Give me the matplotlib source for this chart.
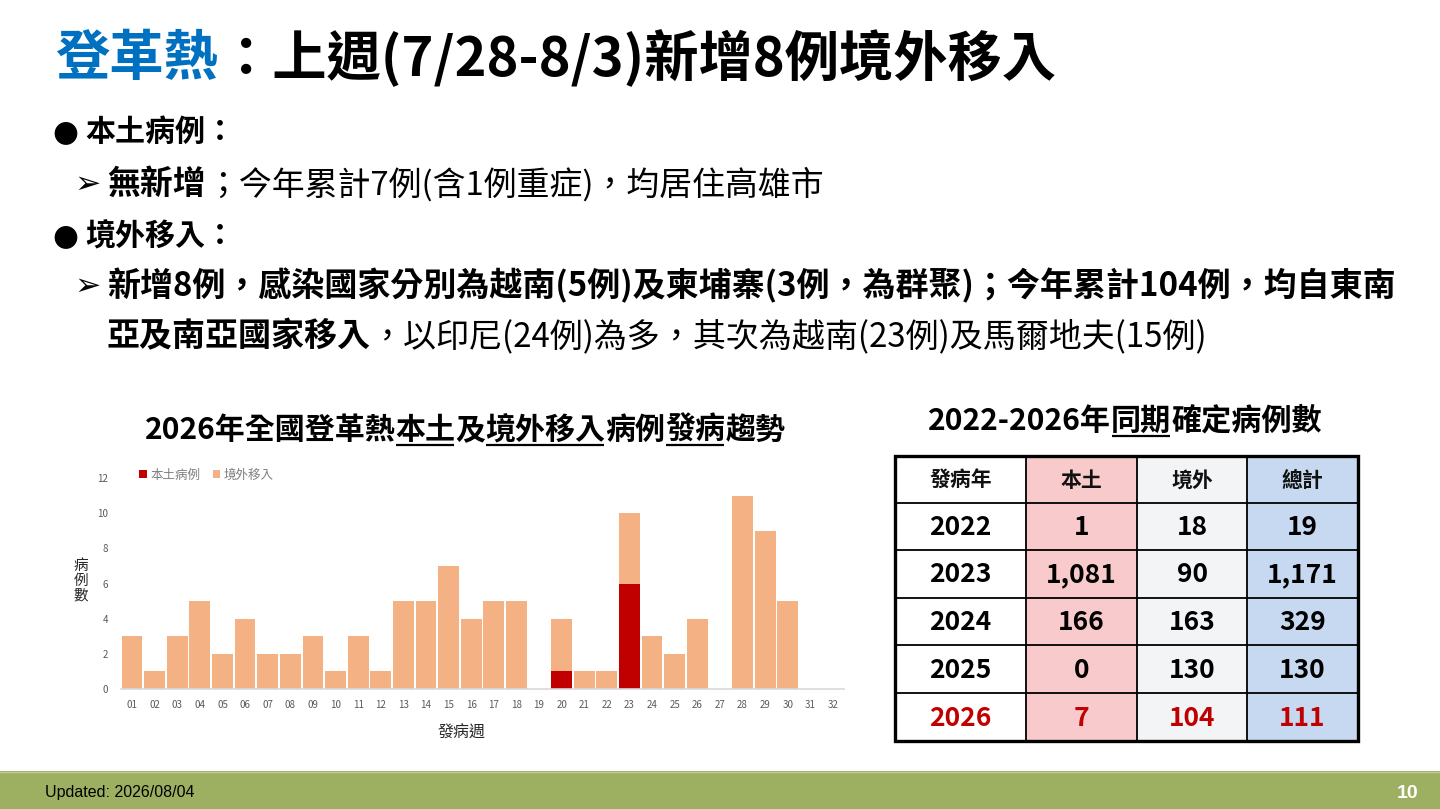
import matplotlib
matplotlib.use("Agg")
import matplotlib.pyplot as plt
from matplotlib.patches import Rectangle

plt.rcParams['font.family'] = ['Noto Sans CJK TC', 'DejaVu Sans']

# ---------------- data ----------------
weeks = ['01', '02', '03', '04', '05', '06', '07', '08', '09', '10', '11', '12', '13', '14', '15', '16',
         '17', '18', '19', '20', '21', '22', '23', '24', '25', '26', '27', '28', '29', '30', '31', '32']
local_cases = [0, 0, 0, 0, 0, 0, 0, 0, 0, 0, 0, 0, 0, 0, 0, 0,
               0, 0, 0, 1, 0, 0, 6, 0, 0, 0, 0, 0, 0, 0, 0, 0]
imported_cases = [3, 1, 3, 5, 2, 4, 2, 2, 3, 1, 3, 1, 5, 5, 7, 4,
                  5, 5, 0, 3, 1, 1, 4, 3, 2, 4, 0, 11, 9, 5, 0, 0]
y_ticks = [0, 2, 4, 6, 8, 10, 12]

table_header = ['發病年', '本土', '境外', '總計']
table_years = ['2022', '2023', '2024', '2025', '2026']
table_local = [1, 1081, 166, 0, 7]
table_imported = [18, 90, 163, 130, 104]
table_total = [19, 1171, 329, 130, 111]

# ---------------- figure ----------------
W, H = 1440, 809
fig = plt.figure(figsize=(W / 100, H / 100), dpi=100)
fig.patch.set_facecolor('white')

ov = fig.add_axes([0, 0, 1, 1])
ov.set_xlim(0, W)
ov.set_ylim(H, 0)
ov.axis('off')
ov.set_zorder(0)

renderer = fig.canvas.get_renderer()

BLUE = '#0070C0'
RED = '#C00000'
ORANGE = '#F4B183'


def seg_width(txt, size, weight):
    t = ov.text(0, 0, txt, fontsize=size, fontweight=weight)
    w = t.get_window_extent(renderer=renderer).width
    t.remove()
    return w


def runs_width(runs, size):
    return sum(seg_width(r[0], size, r[1]) for r in runs)


def fit_size(runs, target):
    return 20 * target / runs_width(runs, 20)


def draw_runs(x, y, runs, size, underline=None, ulw=1.5, ul_off=0.0):
    positions = []
    for txt, weight, color in runs:
        t = ov.text(x, y, txt, fontsize=size, fontweight=weight, color=color,
                    ha='left', va='center')
        w = t.get_window_extent(renderer=renderer).width
        positions.append((x, x + w))
        x += w
    if underline:
        for i in underline:
            x0, x1 = positions[i]
            ov.plot([x0 + 1, x1 - 1], [y + ul_off, y + ul_off], color='black', lw=ulw,
                    solid_capstyle='butt')
    return positions


# ---------------- main title ----------------
title_runs = [('登革熱', 'bold', BLUE), ('：上週(7/28-8/3)新增8例境外移入', 'bold', 'black')]
ts = fit_size(title_runs, 1000)
draw_runs(55, 59, title_runs, ts)

# ---------------- bullet text ----------------
line1 = [('本土病例：', 'bold', 'black')]
line2 = [('無新增', 'bold', 'black'), ('；今年累計7例(含1例重症)，均居住高雄市', 'normal', 'black')]
line3 = [('境外移入：', 'bold', 'black')]
line4 = [('新增8例，感染國家分別為越南(5例)及柬埔寨(3例，為群聚)；今年累計104例，均自東南', 'bold', 'black')]
line5 = [('亞及南亞國家移入', 'bold', 'black'),
         ('，以印尼(24例)為多，其次為越南(23例)及馬爾地夫(15例)', 'normal', 'black')]

bs = fit_size(line4, 1288)
bs1 = fit_size(line1, 150)


def bullet(xc, yc, sym, size):
    ov.text(xc, yc, sym, fontsize=size, ha='center', va='center', color='black',
            family=['DejaVu Sans'], fontweight='bold')


bullet(65, 132, '●', bs * 0.9)
draw_runs(85, 132, line1, bs1)
bullet(88, 184, '➢', bs * 0.95)
draw_runs(107, 184, line2, fit_size(line2, 715))
bullet(65, 236, '●', bs * 0.9)
draw_runs(85, 236, line3, bs1)
bullet(88, 286, '➢', bs * 0.95)
draw_runs(107, 286, line4, bs)
draw_runs(107, 337, line5, fit_size(line5, 1100))

# ---------------- chart title ----------------
ct_runs = [('2026年全國登革熱', 'bold', 'black'), ('本土', 'bold', 'black'), ('及', 'bold', 'black'),
           ('境外移入', 'bold', 'black'), ('病例', 'bold', 'black'), ('發病', 'bold', 'black'),
           ('趨勢', 'bold', 'black')]
cts = fit_size(ct_runs, 640)
ctw = runs_width(ct_runs, cts)
draw_runs(465 - ctw / 2, 430, ct_runs, cts, underline=[1, 3, 5], ulw=1.6, ul_off=15)

# ---------------- bar chart ----------------
ax_left, ax_right = 120.7, 844.3
ax_top, ax_bot = 478, 689
ax = fig.add_axes([ax_left / W, 1 - ax_bot / H, (ax_right - ax_left) / W, (ax_bot - ax_top) / H])
ax.set_zorder(2)
ax.patch.set_alpha(0)
x = list(range(len(weeks)))
ax.bar(x, local_cases, width=0.92, color=RED, label='本土病例')
ax.bar(x, imported_cases, width=0.92, bottom=local_cases, color=ORANGE, label='境外移入')
ax.set_xlim(-0.5, len(weeks) - 0.5)
ax.set_ylim(0, 12)
ax.set_yticks(y_ticks)
ax.set_xticks(x)
ax.set_xticklabels(weeks)
for s in ['top', 'right', 'left']:
    ax.spines[s].set_visible(False)
ax.spines['bottom'].set_color('#D9D9D9')
ax.spines['bottom'].set_linewidth(1.2)
ax.tick_params(axis='both', length=0, labelsize=7, labelcolor='#595959')
ax.tick_params(axis='x', pad=8)
ax.tick_params(axis='y', pad=9)
leg = ax.legend(loc='center left', bbox_to_anchor=(139 / W, 1 - 475 / H),
                bbox_transform=fig.transFigure, ncol=2, frameon=False, fontsize=9,
                handlelength=0.6, handleheight=0.6, handletextpad=0.3, columnspacing=1.0,
                borderaxespad=0, borderpad=0)
for t in leg.get_texts():
    t.set_color('#7F7F7F')

ov.text(81, 581, '病\n例\n數', fontsize=10.5, ha='center', va='center', linespacing=1.05,
        color='#262626')
ov.text(462, 733, '發病週', fontsize=11.5, ha='center', va='center', color='#262626')

# ---------------- table ----------------
tt_runs = [('2022-2026年', 'bold', 'black'), ('同期', 'bold', 'black'), ('確定病例數', 'bold', 'black')]
tts = fit_size(tt_runs, 394)
ttw = runs_width(tt_runs, tts)
draw_runs(1125 - ttw / 2, 421, tt_runs, tts, underline=[1], ulw=1.6, ul_off=15)

col_x = [895, 1026, 1137, 1247, 1358]
row_y = [456, 503, 550, 598, 645, 693, 741]
col_colors = ['white', '#F9CACB', '#F3F4F6', '#C6D9F0']
for j in range(4):
    ov.add_patch(Rectangle((col_x[j], row_y[0]), col_x[j + 1] - col_x[j], row_y[-1] - row_y[0],
                           facecolor=col_colors[j], edgecolor='none', zorder=1))
for xx in col_x[1:-1]:
    ov.plot([xx, xx], [row_y[0], row_y[-1]], color='black', lw=1.3, zorder=2)
for yy in row_y[1:-1]:
    ov.plot([col_x[0], col_x[-1]], [yy, yy], color='black', lw=1.3, zorder=2)
ov.add_patch(Rectangle((col_x[0], row_y[0]), col_x[-1] - col_x[0], row_y[-1] - row_y[0],
                       facecolor='none', edgecolor='black', lw=2.4, zorder=3))

cx = [(col_x[j] + col_x[j + 1]) / 2 for j in range(4)]
cy = [(row_y[i] + row_y[i + 1]) / 2 for i in range(6)]
for j, h in enumerate(table_header):
    ov.text(cx[j], cy[0] + 1, h, fontsize=15, ha='center', va='center', color='#111111',
            fontweight='bold', zorder=4)
for i in range(len(table_years)):
    color = RED if table_years[i] == '2026' else 'black'
    vals = [table_years[i], f"{table_local[i]:,}", f"{table_imported[i]:,}", f"{table_total[i]:,}"]
    for j, v in enumerate(vals):
        ov.text(cx[j], cy[i + 1] + 1, v, fontsize=19, ha='center', va='center', color=color,
                fontweight='bold', zorder=4)

# ---------------- footer ----------------
ov.add_patch(Rectangle((0, 771), W, H - 771, facecolor='#9DB062', edgecolor='none', zorder=1))
ov.plot([0, W], [771.5, 771.5], color='#BFCC92', lw=1, zorder=2)
ov.text(45, 793, 'Updated: 2026/08/04', fontsize=11.5, ha='left', va='center', color='black',
        family=['Liberation Sans'], zorder=3)
ov.text(1408, 793, '10', fontsize=14, ha='center', va='center', color='white', fontweight='bold',
        family=['Liberation Sans'], zorder=3)

fig.savefig('out.png', dpi=100, facecolor='white')
